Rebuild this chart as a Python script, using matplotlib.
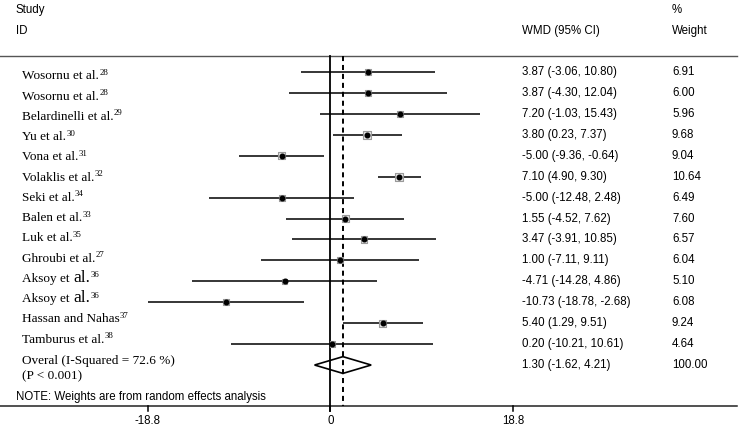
import numpy as np
import matplotlib
matplotlib.use("Agg")
from matplotlib import pyplot as plt
from matplotlib import transforms as mtransforms
from matplotlib.patches import Polygon

studies = ["Wosornu et al.", "Wosornu et al.", "Belardinelli et al.", "Yu et al.",
           "Vona et al.", "Volaklis et al.", "Seki et al.", "Balen et al.",
           "Luk et al.", "Ghroubi et al.", "Aksoy et al.", "Aksoy et al.",
           "Hassan and Nahas", "Tamburus et al."]
refs = ["28", "28", "29", "30", "31", "32", "34", "33", "35", "27", "36", "36", "37", "38"]
wmd = [3.87, 3.87, 7.20, 3.80, -5.00, 7.10, -5.00, 1.55, 3.47, 1.00, -4.71, -10.73, 5.40, 0.20]
lo = [-3.06, -4.30, -1.03, 0.23, -9.36, 4.90, -12.48, -4.52, -3.91, -7.11, -14.28, -18.78, 1.29, -10.21]
hi = [10.80, 12.04, 15.43, 7.37, -0.64, 9.30, 2.48, 7.62, 10.85, 9.11, 4.86, -2.68, 9.51, 10.61]
weight = [6.91, 6.00, 5.96, 9.68, 9.04, 10.64, 6.49, 7.60, 6.57, 6.04, 5.10, 6.08, 9.24, 4.64]

overall = 1.30
overall_lo = -1.62
overall_hi = 4.21
overall_weight = 100.00
i_squared = 72.6
xticks = [-18.8, 0, 18.8]

W, H = 743, 437
fig = plt.figure(figsize=(W / 100, H / 100), dpi=100)
ax = fig.add_axes([0, 0, 1, 1])
ax.axis("off")

# x: 330.3 px at 0, 9.71 px per unit; y: row 0 at 72 px, 20.93 px per row
ax.set_xlim(-330.3 / 9.71, (W - 330.3) / 9.71)
ax.set_ylim((H - 72) / 20.93, -72 / 20.93)

px = mtransforms.Affine2D().scale(1, -1).translate(0, H)  # pixel coords, top-left origin
xdata_ypx = mtransforms.blended_transform_factory(ax.transData, px)

serif = "Liberation Serif"
sans = "Liberation Sans"
fs = 8.3
n = len(studies)
rows = np.arange(n)

# frame lines
ax.plot([0, 737], [56, 56], color="#555555", lw=1.0, transform=px)
ax.plot([0, 737], [406, 406], color="#222222", lw=1.1, transform=px)
ax.plot([0, 0], [56, 411], color="black", lw=1.3, transform=xdata_ypx)
ax.plot([overall, overall], [56, 406], color="black", lw=1.4, ls=(0, (2.6, 2.0)),
        transform=xdata_ypx)
for t in xticks:
    ax.plot([t, t], [406, 411], color="black", lw=1.1, transform=xdata_ypx)
    lab = "0" if t == 0 else f"{t:.1f}"
    ax.text(t, 421, lab, transform=xdata_ypx, ha="center", va="center",
            family=sans, fontsize=fs)

# study estimates
ax.hlines(rows, lo, hi, color="black", lw=1.1)
ax.scatter(wmd, rows, s=np.array(weight) * 3.0, marker="s", facecolor="#e2e2e2",
           edgecolor="#9a9a9a", linewidths=0.8, zorder=3)
ax.scatter(wmd, rows, s=11, marker="o", color="black", zorder=4)

# pooled diamond
h = 0.4
diamond = Polygon([(overall_lo, n), (overall, n - h), (overall_hi, n), (overall, n + h)],
                  closed=True, fill=False, edgecolor="black", lw=1.2)
ax.add_patch(diamond)

renderer = fig.canvas.get_renderer()


def chunks(x, y, parts):
    # parts: (text, size, rise in px)
    for s, size, rise in parts:
        t = ax.text(x, y - rise, s, transform=px, family=serif, fontsize=size,
                    ha="left", va="baseline")
        x = t.get_window_extent(renderer).x1 + 0.3


for i in range(n):
    y = 79.3 + 20.25 * i
    name = studies[i]
    if name.startswith("Aksoy"):
        parts = [("Aksoy et ", 9.5, 0), ("al.", 12.5, 0)]
    else:
        parts = [(name, 9.5, 0)]
    parts.append((refs[i], 6.3, 4.5))
    chunks(22, y, parts)
    ax.text(522, 72 + 20.93 * i, f"{wmd[i]:.2f} ({lo[i]:.2f}, {hi[i]:.2f})", transform=px,
            family=sans, fontsize=fs, va="center")
    ax.text(672, 72 + 20.93 * i, f"{weight[i]:.2f}", transform=px,
            family=sans, fontsize=fs, va="center")

chunks(22, 364, [(f"Overal (I-Squared = {i_squared} %)", 9.5, 0)])
chunks(22, 379, [("(P < 0.001)", 9.5, 0)])
ax.text(522, 365, f"{overall:.2f} ({overall_lo:.2f}, {overall_hi:.2f})", transform=px,
        family=sans, fontsize=fs, va="center")
ax.text(672, 365, f"{overall_weight:.2f}", transform=px, family=sans, fontsize=fs, va="center")

# headers and note
ax.text(16, 10, "Study", transform=px, family=sans, fontsize=fs, va="center")
ax.text(16, 31, "ID", transform=px, family=sans, fontsize=fs, va="center")
ax.text(522, 31, "WMD (95% CI)", transform=px, family=sans, fontsize=fs, va="center")
ax.text(672, 10, "%", transform=px, family=sans, fontsize=fs, va="center")
ax.text(672, 31, "Weight", transform=px, family=sans, fontsize=fs, va="center")
ax.text(16, 397, "NOTE: Weights are from random effects analysis", transform=px,
        family=sans, fontsize=fs, va="center")

fig.savefig("out.png", dpi=100)
